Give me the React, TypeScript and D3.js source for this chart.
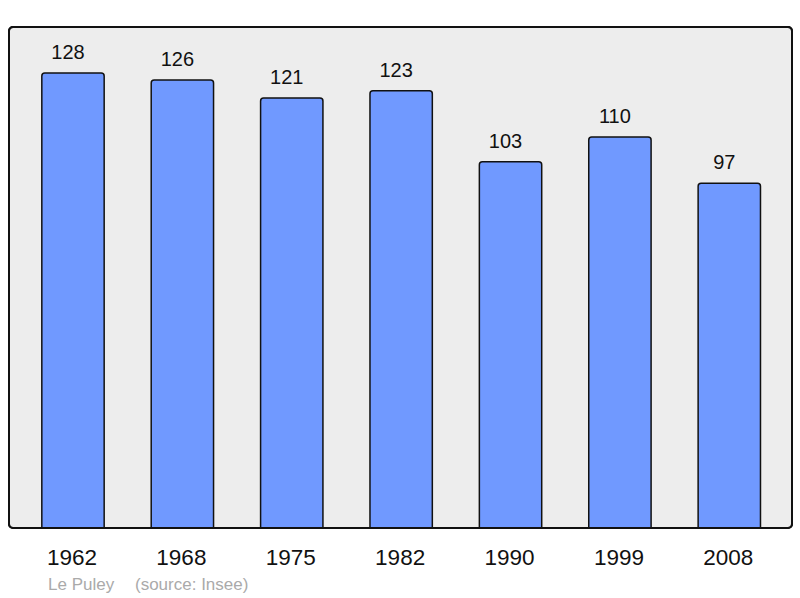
import React from 'react';
import * as d3 from 'd3';

// Population data (Le Puley, source: Insee)
const years = ['1962', '1968', '1975', '1982', '1990', '1999', '2008'];
const population = [128, 126, 121, 123, 103, 110, 97];
const placeName = 'Le Puley';
const sourceLabel = '(source: Insee)';

const W = 800;
const H = 598;
const panel = { left: 9, top: 27, right: 792, bottom: 528 };

export default function App() {
  const x = d3
    .scaleBand<string>()
    .domain(years)
    .range([18.3, 784])
    .paddingInner(0.43)
    .paddingOuter(0.215);

  // 128 reaches y=73, the panel top sits a bit higher
  const y = d3.scaleLinear().domain([0, 128]).range([panel.bottom, 73]);

  const font = '"Liberation Sans", Arial, sans-serif';

  return (
    <svg
      width={W}
      height={H}
      style={{ position: 'absolute', left: 0, top: 0 }}
      fontFamily={font}
    >
      <rect x={0} y={0} width={W} height={H} fill="#ffffff" />
      <rect
        x={panel.left}
        y={panel.top}
        width={panel.right - panel.left}
        height={panel.bottom - panel.top}
        rx={4}
        fill="#ededed"
        stroke="#111"
        strokeWidth={2}
      />
      {years.map((yr, i) => {
        const bx = x(yr)!;
        const bw = x.bandwidth();
        const by = y(population[i]);
        return (
          <g key={yr}>
            <path
              d={`M${bx},${panel.bottom} V${by + 3} Q${bx},${by} ${bx + 3},${by} H${bx + bw - 3} Q${bx + bw},${by} ${bx + bw},${by + 3} V${panel.bottom}`}
              fill="#7099ff"
              stroke="#111"
              strokeWidth={1.5}
            />
            {/* value labels sit a little left of the bar centre */}
            <text
              x={bx + bw / 2 - 5}
              y={by - 14}
              textAnchor="middle"
              fontSize={20}
              fill="#111"
            >
              {population[i]}
            </text>
            <text
              x={bx + bw / 2 - 1}
              y={565}
              textAnchor="middle"
              fontSize={22.5}
              fill="#111"
            >
              {yr}
            </text>
          </g>
        );
      })}
      <rect
        x={panel.left}
        y={panel.top}
        width={panel.right - panel.left}
        height={panel.bottom - panel.top}
        rx={4}
        fill="none"
        stroke="#111"
        strokeWidth={2}
      />
      <text x={48} y={590} fontSize={17} fill="#aaaaaa">
        {placeName}
      </text>
      <text x={135} y={590} fontSize={17} fill="#aaaaaa">
        {sourceLabel}
      </text>
    </svg>
  );
}
